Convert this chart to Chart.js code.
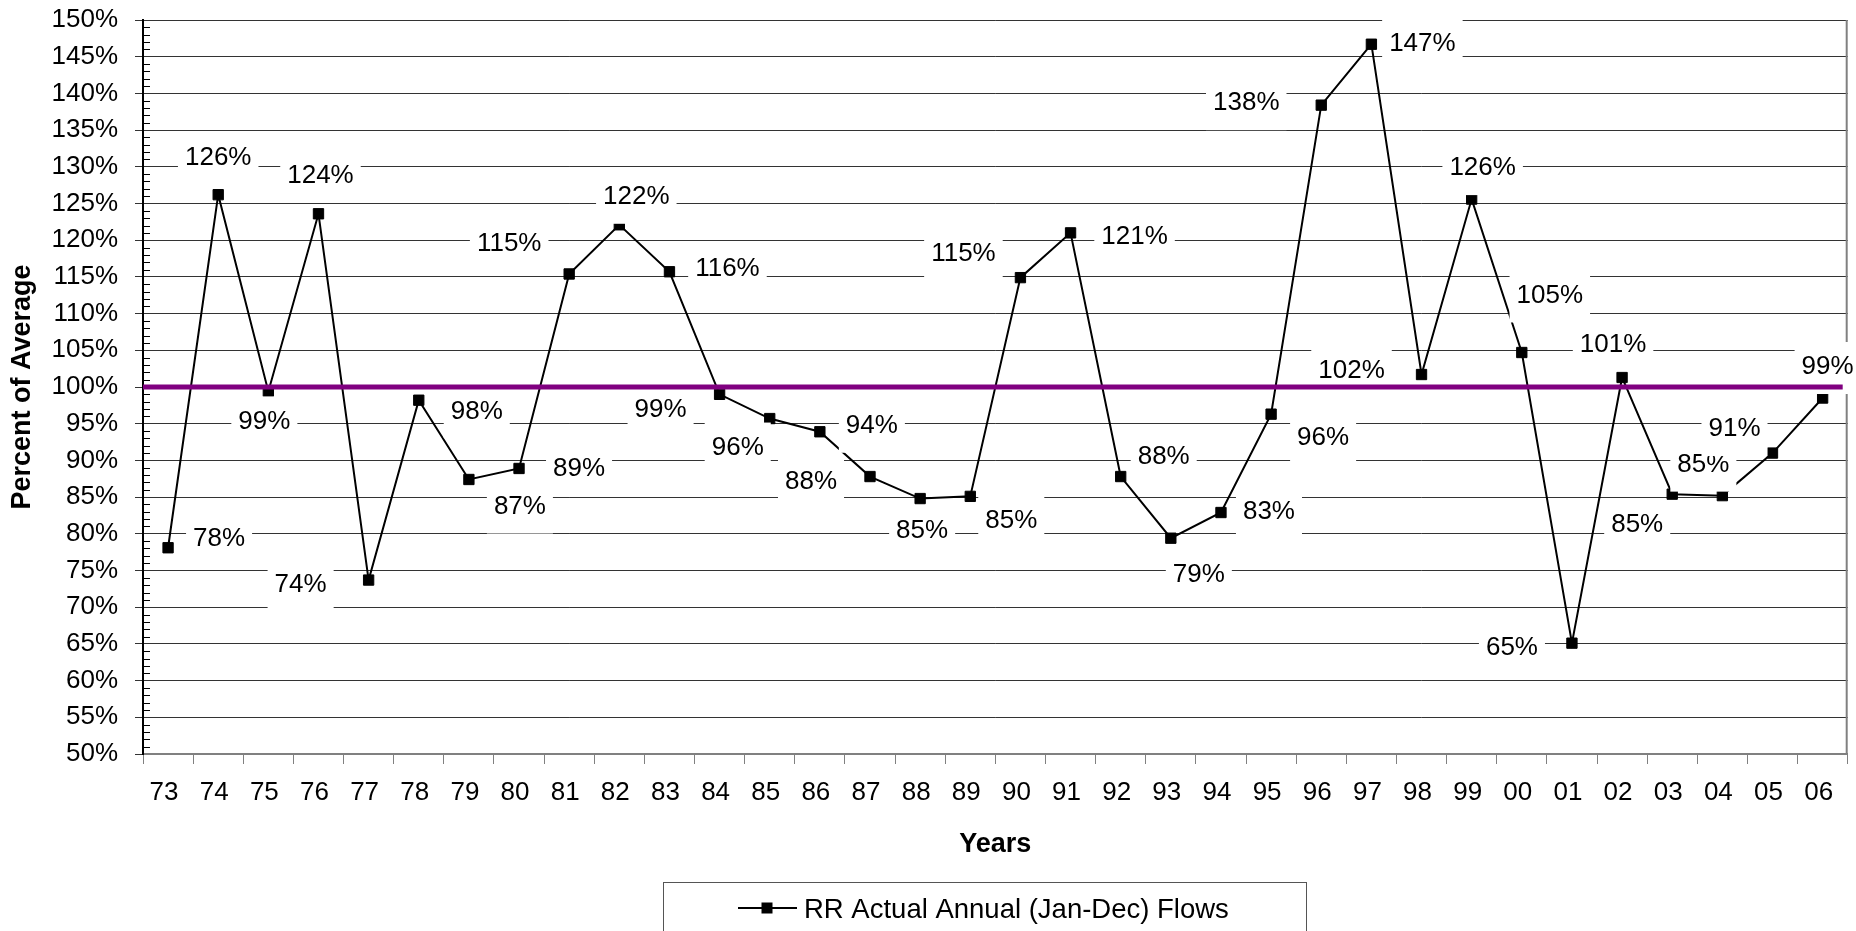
<!DOCTYPE html>
<html><head><meta charset="utf-8">
<script src="https://cdn.jsdelivr.net/npm/chart.js@4"></script>
<style>html,body{margin:0;padding:0;background:#fff;overflow:hidden}canvas{display:block}</style>
</head><body>
<canvas id="c" width="1856" height="931"></canvas>
<script>
// ---- data ----
const years = ['73','74','75','76','77','78','79','80','81','82','83','84','85','86','87','88','89',
               '90','91','92','93','94','95','96','97','98','99','00','01','02','03','04','05','06'];
const flows = [78.1,126.2,99.4,123.6,73.7,98.2,87.4,88.9,115.4,122.1,115.7,99.0,95.7,93.9,87.8,84.8,85.1,
               114.9,121.0,87.8,79.4,82.9,96.3,138.4,146.7,101.7,125.6,104.7,65.1,101.3,85.4,85.2,91.0,98.5];
const averageLevel = 100;
const seriesLabel = 'RR Actual Annual (Jan-Dec) Flows';
const xTitle = 'Years';
const yTitle = 'Percent of Average';
const yMin = 50, yMax = 150, yStep = 5, yMinorStep = 1;
// data-label placement relative to each point (layout only)
const labelOffsets = [[51,-11],[0,-39],[-4,28],[2,-40],[-68,3],[58,9],[51,25],[60,-2],[-60,-32],[17,-30],
  [58,-5],[-59,13],[-32,27],[52,-8],[-59,3],[2,30],[41,22],[-57,-26],[64,2],[43,-22],[28,34],[48,-3],
  [52,22],[-75,-4],[51,-3],[-70,-6],[11,-33],[28,-59],[-60,3],[-9,-35],[-35,29],[-19,-33],[-38,-26],[5,-33]];

const FONT = "'Liberation Sans', Arial, sans-serif";

const decor = {
  id: 'decor',
  afterDatasetsDraw(chart) {
    const {ctx, chartArea: a, scales: {x, y}} = chart;
    ctx.save();
    // minor ticks on y axis (inward)
    ctx.strokeStyle = '#000'; ctx.lineWidth = 1;
    ctx.beginPath();
    for (let v = yMin; v <= yMax; v += yMinorStep) {
      if (v % yStep === 0) continue;
      const py = Math.round(y.getPixelForValue(v)) + 0.5;
      ctx.moveTo(a.left, py); ctx.lineTo(a.left + 7, py);
    }
    ctx.stroke();
    // right border
    ctx.strokeStyle = '#808080'; ctx.lineWidth = 2;
    ctx.beginPath(); ctx.moveTo(a.right - 1, a.top); ctx.lineTo(a.right - 1, a.bottom); ctx.stroke();
    // data labels with white boxes
    const meta = chart.getDatasetMeta(0);
    ctx.font = '26px ' + FONT;
    ctx.textAlign = 'center'; ctx.textBaseline = 'alphabetic';
    meta.data.forEach((pt, i) => {
      const txt = Math.round(flows[i]) + '%';
      const cx = pt.x + labelOffsets[i][0], cy = pt.y + labelOffsets[i][1];
      const w = ctx.measureText(txt).width;
      ctx.fillStyle = '#fff';
      ctx.fillRect(cx - w / 2 - 7, cy - 23, w + 14, 52);
      ctx.fillStyle = '#000';
      ctx.fillText(txt, cx, cy + 26 * 0.358);
    });
    // average line
    const py = y.getPixelForValue(averageLevel);
    ctx.strokeStyle = '#800080'; ctx.lineWidth = 5;
    ctx.beginPath(); ctx.moveTo(a.left, py); ctx.lineTo(a.right - 5, py); ctx.stroke();
    ctx.restore();
  },
  afterDraw(chart) {
    const {ctx} = chart;
    ctx.save();
    ctx.strokeStyle = '#555'; ctx.lineWidth = 1;
    ctx.strokeRect(663.5, 882.5, 643, 80);
    const ly = 908;
    ctx.strokeStyle = '#000'; ctx.lineWidth = 2;
    ctx.beginPath(); ctx.moveTo(738, ly); ctx.lineTo(797, ly); ctx.stroke();
    ctx.fillStyle = '#000';
    ctx.fillRect(767 - 5.5, ly - 5.5, 11, 11);
    ctx.font = '27.5px ' + FONT;
    ctx.textAlign = 'left'; ctx.textBaseline = 'alphabetic';
    ctx.fillText(chart.data.datasets[0].label, 804, ly + 27.5 * 0.358);
    ctx.restore();
  }
};

function noOverflow(s) { s.paddingTop = 0; s.paddingBottom = 0; s.paddingLeft = 0; s.paddingRight = 0; }

new Chart(document.getElementById('c'), {
  type: 'line',
  data: {
    labels: years,
    datasets: [{
      label: seriesLabel,
      data: flows,
      borderColor: '#000',
      borderWidth: 2,
      backgroundColor: '#000',
      pointStyle: 'rect',
      pointRadius: 7.3,
      pointBorderWidth: 1,
      pointBackgroundColor: '#000',
      pointBorderColor: '#000',
      tension: 0,
      fill: false
    }]
  },
  options: {
    responsive: false,
    animation: false,
    devicePixelRatio: 1,
    layout: {padding: {top: 20, right: 1, left: 0, bottom: 0}},
    plugins: {legend: {display: false}, tooltip: {enabled: false}},
    scales: {
      x: {
        type: 'category',
        offset: true,
        afterFit(s) { s.height = 177; noOverflow(s); },
        grid: {drawOnChartArea: false, offset: true, tickLength: 10, color: '#808080', lineWidth: 1},
        border: {color: '#808080', width: 2},
        ticks: {autoSkip: false, maxRotation: 0, padding: 13, labelOffset: -4,
                color: '#000', font: {family: FONT, size: 26}},
        title: {display: true, text: xTitle, color: '#000',
                font: {family: FONT, size: 27, weight: 'bold'}, padding: {top: 0, bottom: 70}}
      },
      y: {
        min: yMin, max: yMax,
        afterFit(s) { s.width = 143; noOverflow(s); },
        grid: {color: '#333', lineWidth: 1, tickLength: 8},
        border: {color: '#000', width: 2},
        ticks: {stepSize: yStep, padding: 17, color: '#000',
                font: {family: FONT, size: 26}, callback: v => v + '%'},
        title: {display: true, text: yTitle, color: '#000',
                font: {family: FONT, size: 27, weight: 'bold'}, padding: {top: 6, bottom: 0}}
      }
    }
  },
  plugins: [decor]
});
</script>
</body></html>
